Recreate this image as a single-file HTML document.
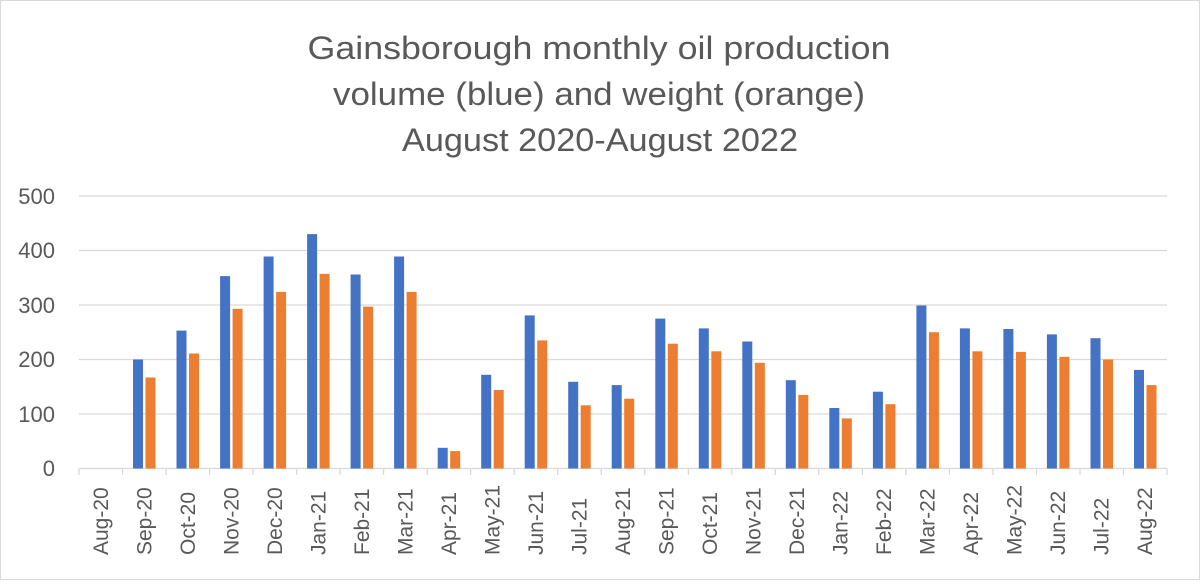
<!DOCTYPE html>
<html><head><meta charset="utf-8"><style>
html,body{margin:0;padding:0;background:#fff}
</style></head><body>
<svg width="1200" height="580" xmlns="http://www.w3.org/2000/svg" font-family="'Liberation Sans', sans-serif">
<rect x="0.5" y="0.5" width="1199" height="579" fill="#fff" stroke="#d9d9d9"/>
<g fill="#595959" font-size="32" text-anchor="middle">
<text x="599" y="59" textLength="583" lengthAdjust="spacingAndGlyphs">Gainsborough monthly oil production</text>
<text x="599" y="105" textLength="532" lengthAdjust="spacingAndGlyphs">volume (blue) and weight (orange)</text>
<text x="600" y="151" textLength="396" lengthAdjust="spacingAndGlyphs">August 2020-August 2022</text>
</g>
<g stroke="#d9d9d9" stroke-width="1.3">
<line x1="79" x2="1167" y1="196" y2="196"/>
<line x1="79" x2="1167" y1="250.5" y2="250.5"/>
<line x1="79" x2="1167" y1="305" y2="305"/>
<line x1="79" x2="1167" y1="359.5" y2="359.5"/>
<line x1="79" x2="1167" y1="414" y2="414"/>
<line x1="79" x2="1167" y1="468.5" y2="468.5"/>
<line x1="79" x2="79" y1="468.5" y2="475"/><line x1="122.5" x2="122.5" y1="468.5" y2="475"/><line x1="166" x2="166" y1="468.5" y2="475"/><line x1="209.6" x2="209.6" y1="468.5" y2="475"/><line x1="253.1" x2="253.1" y1="468.5" y2="475"/><line x1="296.6" x2="296.6" y1="468.5" y2="475"/><line x1="340.1" x2="340.1" y1="468.5" y2="475"/><line x1="383.6" x2="383.6" y1="468.5" y2="475"/><line x1="427.2" x2="427.2" y1="468.5" y2="475"/><line x1="470.7" x2="470.7" y1="468.5" y2="475"/><line x1="514.2" x2="514.2" y1="468.5" y2="475"/><line x1="557.7" x2="557.7" y1="468.5" y2="475"/><line x1="601.2" x2="601.2" y1="468.5" y2="475"/><line x1="644.8" x2="644.8" y1="468.5" y2="475"/><line x1="688.3" x2="688.3" y1="468.5" y2="475"/><line x1="731.8" x2="731.8" y1="468.5" y2="475"/><line x1="775.3" x2="775.3" y1="468.5" y2="475"/><line x1="818.8" x2="818.8" y1="468.5" y2="475"/><line x1="862.4" x2="862.4" y1="468.5" y2="475"/><line x1="905.9" x2="905.9" y1="468.5" y2="475"/><line x1="949.4" x2="949.4" y1="468.5" y2="475"/><line x1="992.9" x2="992.9" y1="468.5" y2="475"/><line x1="1036.4" x2="1036.4" y1="468.5" y2="475"/><line x1="1080" x2="1080" y1="468.5" y2="475"/><line x1="1123.5" x2="1123.5" y1="468.5" y2="475"/><line x1="1167" x2="1167" y1="468.5" y2="475"/>
</g>
<g fill="#595959" font-size="22" text-anchor="end">
<text x="55" y="204">500</text><text x="55" y="258">400</text><text x="55" y="313">300</text>
<text x="55" y="367">200</text><text x="55" y="422">100</text><text x="55" y="476">0</text>
</g>
<g transform="translate(0,468.5) scale(1,-1)">
<g fill="#4472c4">
<rect x="133" y="0" width="10" height="109"/>
<rect x="176.5" y="0" width="10" height="137.9"/>
<rect x="220.1" y="0" width="10" height="192.4"/>
<rect x="263.6" y="0" width="10" height="212"/>
<rect x="307.1" y="0" width="10" height="234.4"/>
<rect x="350.6" y="0" width="10" height="194"/>
<rect x="394.1" y="0" width="10" height="212"/>
<rect x="437.7" y="0" width="10" height="20.7"/>
<rect x="481.2" y="0" width="10" height="93.7"/>
<rect x="524.7" y="0" width="10" height="153.1"/>
<rect x="568.2" y="0" width="10" height="86.7"/>
<rect x="611.7" y="0" width="10" height="83.4"/>
<rect x="655.3" y="0" width="10" height="149.9"/>
<rect x="698.8" y="0" width="10" height="140.1"/>
<rect x="742.3" y="0" width="10" height="127"/>
<rect x="785.8" y="0" width="10" height="88.3"/>
<rect x="829.3" y="0" width="10" height="60.5"/>
<rect x="872.9" y="0" width="10" height="76.8"/>
<rect x="916.4" y="0" width="10" height="163"/>
<rect x="959.9" y="0" width="10" height="140.1"/>
<rect x="1003.4" y="0" width="10" height="139.5"/>
<rect x="1046.9" y="0" width="10" height="134.1"/>
<rect x="1090.5" y="0" width="10" height="130.3"/>
<rect x="1134" y="0" width="10" height="98.6"/>
</g>
<g fill="#ed7d31">
<rect x="145.5" y="0" width="10" height="91"/>
<rect x="189" y="0" width="10" height="115"/>
<rect x="232.6" y="0" width="10" height="159.7"/>
<rect x="276.1" y="0" width="10" height="176.6"/>
<rect x="319.6" y="0" width="10" height="194.6"/>
<rect x="363.1" y="0" width="10" height="161.9"/>
<rect x="406.6" y="0" width="10" height="176.6"/>
<rect x="450.2" y="0" width="10" height="17.4"/>
<rect x="493.7" y="0" width="10" height="78.5"/>
<rect x="537.2" y="0" width="10" height="128.1"/>
<rect x="580.7" y="0" width="10" height="63.2"/>
<rect x="624.2" y="0" width="10" height="69.8"/>
<rect x="667.8" y="0" width="10" height="124.8"/>
<rect x="711.3" y="0" width="10" height="117.2"/>
<rect x="754.8" y="0" width="10" height="105.7"/>
<rect x="798.3" y="0" width="10" height="73.6"/>
<rect x="841.8" y="0" width="10" height="50.1"/>
<rect x="885.4" y="0" width="10" height="64.3"/>
<rect x="928.9" y="0" width="10" height="136.3"/>
<rect x="972.4" y="0" width="10" height="117.2"/>
<rect x="1015.9" y="0" width="10" height="116.6"/>
<rect x="1059.4" y="0" width="10" height="111.7"/>
<rect x="1103" y="0" width="10" height="109"/>
<rect x="1146.5" y="0" width="10" height="83.4"/>
</g>
</g>
<g fill="#595959" font-size="21">
<text transform="translate(108,555) rotate(-90)">Aug-20</text>
<text transform="translate(151.3,555) rotate(-90)">Sep-20</text>
<text transform="translate(194.8,555) rotate(-90)">Oct-20</text>
<text transform="translate(238.3,555) rotate(-90)">Nov-20</text>
<text transform="translate(281.8,555) rotate(-90)">Dec-20</text>
<text transform="translate(325.4,555) rotate(-90)">Jan-21</text>
<text transform="translate(368.9,555) rotate(-90)">Feb-21</text>
<text transform="translate(412.4,555) rotate(-90)">Mar-21</text>
<text transform="translate(455.9,555) rotate(-90)">Apr-21</text>
<text transform="translate(499.4,555) rotate(-90)">May-21</text>
<text transform="translate(543,555) rotate(-90)">Jun-21</text>
<text transform="translate(586.5,555) rotate(-90)">Jul-21</text>
<text transform="translate(630,555) rotate(-90)">Aug-21</text>
<text transform="translate(673.5,555) rotate(-90)">Sep-21</text>
<text transform="translate(717,555) rotate(-90)">Oct-21</text>
<text transform="translate(760.6,555) rotate(-90)">Nov-21</text>
<text transform="translate(804.1,555) rotate(-90)">Dec-21</text>
<text transform="translate(847.6,555) rotate(-90)">Jan-22</text>
<text transform="translate(891.1,555) rotate(-90)">Feb-22</text>
<text transform="translate(934.6,555) rotate(-90)">Mar-22</text>
<text transform="translate(978.2,555) rotate(-90)">Apr-22</text>
<text transform="translate(1021.7,555) rotate(-90)">May-22</text>
<text transform="translate(1065.2,555) rotate(-90)">Jun-22</text>
<text transform="translate(1108.7,555) rotate(-90)">Jul-22</text>
<text transform="translate(1152.2,555) rotate(-90)">Aug-22</text>
</g>
</svg>
</body></html>
